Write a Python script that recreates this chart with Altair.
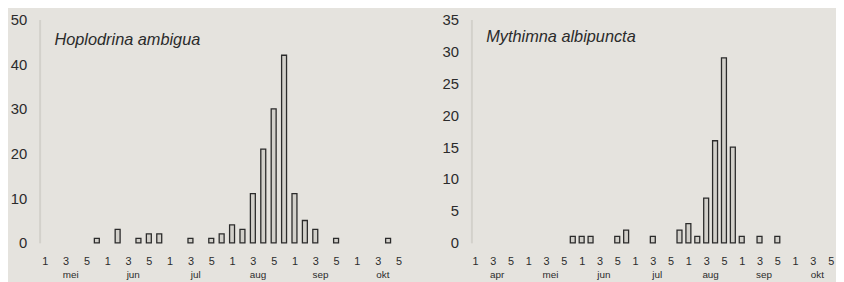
import altair as alt
import pandas as pd

# ---- data ----
pentad_labels = ["1", "2", "3", "4", "5", "6"]  # pentads within a month (odd ones are labelled)
shown_pentads = [0, 2, 4]                     # index of labelled pentads: 1, 3, 5
pentads_per_month = 6

left_title = "Hoplodrina ambigua"
left_months = ["mei", "jun", "jul", "aug", "sep", "okt"]
left_slots = [5, 7, 9, 10, 11, 14, 16, 17, 18, 19, 20, 21, 22, 23, 24, 25, 26, 28, 33]
left_counts = [1, 3, 1, 2, 2, 1, 1, 2, 4, 3, 11, 21, 30, 42, 11, 5, 3, 1, 1]
left_yticks = [0, 10, 20, 30, 40, 50]

right_title = "Mythimna albipuncta"
right_months = ["apr", "mei", "jun", "jul", "aug", "sep", "okt"]
right_slots = [11, 12, 13, 16, 17, 20, 23, 24, 25, 26, 27, 28, 29, 30, 32, 34]
right_counts = [1, 1, 1, 1, 2, 1, 2, 3, 1, 7, 16, 29, 15, 1, 1, 1]
right_yticks = [0, 5, 10, 15, 20, 25, 30, 35]

BG = "#e5e3de"
INK = "#2b2b2b"
H = 226


def panel(title, months, slots, counts, yticks, width, xdomain, tx, ty):
    tickvals = [m * pentads_per_month + k for m in range(len(months)) for k in shown_pentads]
    label_expr = "[" + ",".join("'%s'" % s for s in pentad_labels) + "][datum.value % 6]"
    xscale = alt.Scale(domain=xdomain, nice=False, zero=False, padding=0)
    xaxis = alt.Axis(values=tickvals, labelExpr=label_expr, title=None,
                     domain=False, ticks=False, grid=False,
                     labelFontSize=11, labelPadding=13, labelColor=INK,
                     labelFont="Liberation Sans")
    bars_df = pd.DataFrame({"slot": slots, "count": counts})
    bars = alt.Chart(bars_df).mark_bar(
        size=5, fill="#d2d0ca", stroke=INK, strokeWidth=1.3
    ).encode(
        x=alt.X("slot:Q", scale=xscale, axis=xaxis),
        y=alt.Y("count:Q", scale=alt.Scale(domain=[0, yticks[-1]], nice=False),
                axis=alt.Axis(values=yticks, title=None, ticks=False, grid=False,
                              domainColor="#d3d1cb", domainWidth=2,
                              labelFontSize=15, labelPadding=13, labelColor=INK,
                              labelFont="Liberation Sans")),
    )
    months_df = pd.DataFrame({"month": months,
                              "pos": [m * pentads_per_month + 2.5 for m in range(len(months))]})
    mtext = alt.Chart(months_df).mark_text(
        fontSize=10, baseline="middle", align="center", color=INK, font="Liberation Sans"
    ).encode(
        x=alt.X("pos:Q", scale=xscale, axis=xaxis),
        y=alt.value(H + 33),
        text="month:N",
    )
    ttext = alt.Chart(pd.DataFrame({"t": [title]})).mark_text(
        fontSize=16.5, fontStyle="italic", align="left", baseline="middle",
        color=INK, font="Liberation Sans"
    ).encode(x=alt.value(tx), y=alt.value(ty), text="t:N")
    return alt.layer(bars, mtext, ttext).properties(width=width, height=H)


left = panel(left_title, left_months, left_slots, left_counts, left_yticks,
             379, [-0.5, 35.5], 15, 21)
right = panel(right_title, right_months, right_slots, right_counts, right_yticks,
              369, [-0.4, 40.6], 15, 18)

chart = alt.hconcat(left, right, spacing=28).configure(
    background=BG,
    padding={"left": 2, "top": 3, "right": 0, "bottom": 0},
).configure_view(stroke=None)

chart.save("out.html", embed_options={"renderer": "svg", "actions": False})
